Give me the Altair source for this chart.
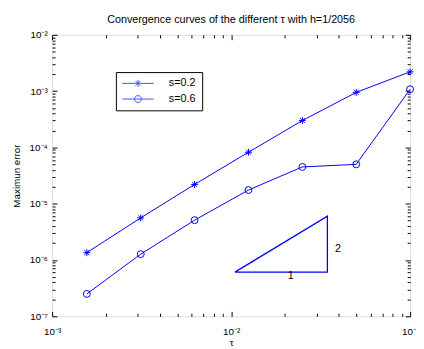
import altair as alt
import pandas as pd

# ---- data ----
tau = [0.0015625, 0.003125, 0.00625, 0.0125, 0.025, 0.05, 0.1]
err_s02 = [1.35e-6, 5.6e-6, 2.2e-5, 8.2e-5, 3.0e-4, 9.5e-4, 2.2e-3]
err_s06 = [2.5e-7, 1.27e-6, 5.1e-6, 1.75e-5, 4.5e-5, 5.0e-5, 1.08e-3]
series_names = ["s=0.2", "s=0.6"]

tri_x = [0.0105, 0.0345, 0.0345, 0.0105]
tri_y = [6.1e-7, 6.1e-7, 6.0e-6, 6.1e-7]
slope_text = ["1", "2"]
slope_x = [0.0215, 0.0395]
slope_y = [5.1e-7, 1.55e-6]

x_decades = [1e-3, 1e-2, 1e-1]
y_decades = [1e-7, 1e-6, 1e-5, 1e-4, 1e-3, 1e-2]
minor_steps = [2, 3, 4, 5, 6, 7, 8, 9]

title_text = "Convergence curves of the different \u03c4 with h=1/2056"
x_title = "\u03c4"
y_title = "Maximun error"

W, H = 365, 287
BLUE = "#0000ff"
FONT = "Liberation Sans"

x_ticks = x_decades + [m * d for d in x_decades[:-1] for m in minor_steps]
y_ticks = y_decades + [m * d for d in y_decades[:-1] for m in minor_steps]

df = pd.DataFrame({
    "tau": tau + tau,
    "err": err_s02 + err_s06,
    "series": [series_names[0]] * len(tau) + [series_names[1]] * len(tau),
})
tri_df = pd.DataFrame({"x": tri_x, "y": tri_y, "i": list(range(len(tri_x)))})
lab_df = pd.DataFrame({"x": slope_x, "y": slope_y, "t": slope_text})
leg_df = pd.DataFrame({"series": series_names})

x_scale = alt.Scale(type="log", domain=[1e-3, 1e-1], nice=False)
y_scale = alt.Scale(type="log", domain=[1e-7, 1e-2], nice=False)

exp_n = "(-round(log(datum.value)/LN10))"
sup_expr = ("'10\u207b' + substring('\u2070\u00b9\u00b2\u00b3\u2074\u2075\u2076\u2077\u2078\u2079', "
            + exp_n + ", " + exp_n + " + 1)")
major_test = "abs(log(datum.value)/LN10 - round(log(datum.value)/LN10)) < 0.001"
tick_size = {"condition": {"test": major_test, "value": 5}, "value": 3}

common = dict(grid=False, tickColor="black", tickWidth=1)

# label axes
x_lab = alt.Axis(orient="bottom", values=x_decades, labelExpr=sup_expr, ticks=False, tickSize=0,
                 domain=False, title=x_title, labelFont=FONT, labelFontSize=10, labelColor="black",
                 labelPadding=11, labelFlush=False, labelOverlap=False, labelBound=False,
                 titleFont=FONT, titleFontSize=10, titleFontWeight="normal", titleColor="black",
                 titlePadding=1, **common)
y_lab = alt.Axis(orient="left", values=y_decades, labelExpr=sup_expr, ticks=False, tickSize=0,
                 domain=False, title=y_title, labelFont=FONT, labelFontSize=10, labelColor="black",
                 labelPadding=5, labelFlush=False, labelOverlap=False, labelBound=False,
                 titleFont=FONT, titleFontSize=10, titleFontWeight="normal", titleColor="black",
                 titlePadding=8, **common)
# inward tick axes (bottom / left edges)
x_in_bottom = alt.Axis(orient="top", offset=-H, values=x_ticks, labels=False, domain=False,
                       tickSize=tick_size, title="", **common)
y_in_left = alt.Axis(orient="right", offset=-W, values=y_ticks, labels=False, domain=False,
                     tickSize=tick_size, title="", **common)
# inward tick axes (top / right edges)
x_in_top = alt.Axis(orient="bottom", offset=-H, values=x_ticks, labels=False, domain=False,
                    tickSize=tick_size, title="", **common)
y_in_right = alt.Axis(orient="left", offset=-W, values=y_ticks, labels=False, domain=False,
                      tickSize=tick_size, title="", **common)

ast_path = "M-1,0L1,0M0,-1L0,1M-0.7,-0.7L0.7,0.7M-0.7,0.7L0.7,-0.7"
# legend symbols: a 32px line with the marker in the middle (symbol size 100 -> unit = 5px)
leg_ast = "M-3.2,0L3.2,0M0,-0.7L0,0.7M-0.5,-0.5L0.5,0.5M-0.5,0.5L0.5,-0.5"
leg_circ = "M-3.2,0L3.2,0M-0.7,0A0.7,0.7 0 1,1 0.7,0A0.7,0.7 0 1,1 -0.7,0"

lines = alt.Chart(df).mark_line(color=BLUE, strokeWidth=1).encode(
    x=alt.X("tau:Q", scale=x_scale, axis=x_lab),
    y=alt.Y("err:Q", scale=y_scale, axis=y_lab),
    detail="series:N",
)

points = alt.Chart(df).mark_point(filled=False, color=BLUE, strokeWidth=1, size=50, opacity=1).encode(
    x=alt.X("tau:Q", scale=x_scale, axis=x_in_bottom),
    y=alt.Y("err:Q", scale=y_scale, axis=y_in_left),
    shape=alt.Shape("series:N", scale=alt.Scale(domain=series_names, range=[ast_path, "circle"]),
                    legend=None),
)

tri = alt.Chart(tri_df).mark_line(color=BLUE, strokeWidth=1.3).encode(
    x=alt.X("x:Q", scale=x_scale, axis=x_in_top),
    y=alt.Y("y:Q", scale=y_scale, axis=y_in_right),
    order="i:Q",
)

txt = alt.Chart(lab_df).mark_text(font=FONT, fontSize=11, color="black").encode(
    x=alt.X("x:Q", scale=x_scale, axis=None),
    y=alt.Y("y:Q", scale=y_scale, axis=None),
    text="t:N",
)

legend = alt.Legend(orient="none", legendX=65, legendY=38, title=None, strokeColor="black",
                    fillColor="white", padding=6, symbolSize=100, symbolStrokeWidth=1,
                    symbolOffset=11, symbolStrokeColor=BLUE, labelFont=FONT, labelFontSize=11,
                    labelColor="black", labelOffset=26, rowPadding=4, cornerRadius=0)

leg_layer = alt.Chart(leg_df).transform_filter("false").mark_point(
    filled=False, color=BLUE, strokeWidth=1).encode(
    x=alt.value(0), y=alt.value(0),
    shape=alt.Shape("series:N", scale=alt.Scale(domain=series_names, range=[leg_ast, leg_circ]),
                    legend=legend),
)

chart = alt.layer(lines, points, tri, txt, leg_layer).resolve_scale(
    shape="independent"
).resolve_axis(
    x="independent", y="independent"
).properties(
    width=W, height=H,
    padding={"left": 45, "top": 24, "right": 6, "bottom": 30},
    autosize=alt.AutoSizeParams(type="none"),
    title=alt.TitleParams(title_text, anchor="middle", frame="group", fontSize=11, font=FONT,
                          fontWeight="normal", color="black", offset=5),
).configure_view(stroke="black", strokeWidth=1).configure(background="white")

chart.save("out.html", embed_options={"renderer": "svg", "actions": False})
